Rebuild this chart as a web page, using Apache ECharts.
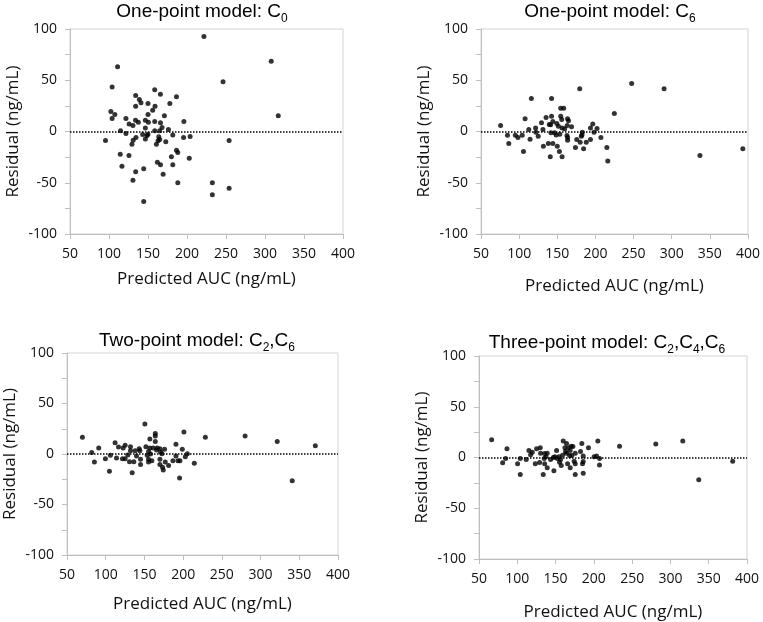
<!DOCTYPE html>
<html>
<head>
<meta charset="utf-8">
<script src="https://cdn.jsdelivr.net/npm/echarts@6/dist/echarts.min.js"></script>
<style>
  html, body { margin: 0; padding: 0; background: #fff; }
  #main { width: 763px; height: 622px; }
</style>
</head>
<body>
<div id="main"></div>
<script>
// residual vs predicted AUC, [auc, residual]
var c0Points = [
  [221.7, 92.7], [308, 68.6], [111, 63.1], [246.2, 48.5], [104, 43.3], [158.6, 40.7], [165.9, 36.4],
  [134.2, 35.1], [186.5, 33.8], [138.9, 31.2], [141, 28], [150, 27.3], [178, 27.3], [134.2, 24.7],
  [159, 24.7], [156, 20.8], [102.4, 19.5], [107.5, 16.6], [150, 16.6], [317, 15.3], [171, 15.3],
  [104, 12.7], [121.7, 12.7], [134, 11], [137.6, 9.1], [146.6, 11], [150.5, 9.1], [158.6, 9.8],
  [166, 8.5], [196, 9.8], [125.8, 7.2], [130.7, 5.9], [146.6, 3.3], [168, 3.9], [176.2, 2],
  [114.8, 0.7], [158.6, 0.7], [165, 0.7], [121.7, -2], [143.2, -2.9], [150, -2.6], [148.8, -3.9],
  [181.8, -3.3], [204, -4.9], [195.6, -5.9], [134.6, -5.9], [146.6, -7.2], [163.8, -5.2], [165, -7.8],
  [162.9, -9.1], [95.5, -8.8], [254, -8.8], [131, -8.5], [172.8, -10], [129.4, -12.4], [160.8, -12.4],
  [114.4, -22.1], [125.6, -23.4], [180, -24.7], [186.5, -18.2], [188.2, -20.5], [202.9, -26],
  [162, -29.9], [166, -32.5], [181.8, -32.5], [116.6, -33.8], [144.5, -36.4], [134.2, -39.3],
  [169.4, -41.6], [130.7, -47.5], [188.2, -50.1], [232.5, -50.1], [254, -55.3], [232.5, -61.8], [144.5, -68.3]
];

var c6Points = [
  [247.5, 46.8], [179.4, 41.6], [290, 41.6], [116, 32.2], [142.5, 32.2], [154.5, 22.8], [158.4, 22.8],
  [224.8, 17.6], [142.5, 15], [154.5, 15], [135.3, 13.7], [107.8, 12.4], [155.8, 11.7], [163.5, 12.4],
  [164.7, 10.4], [144.2, 9.8], [129.3, 8.5], [149.4, 7.8], [139.5, 6.8], [196.5, 7.2], [163, 5.9],
  [75.7, 5.9], [151.5, 5.2], [168.7, 4.6], [156.3, 3.3], [159.7, 2.6], [193.5, 3.3], [202.1, 2.9],
  [121.6, 3.3], [112.6, 2], [131.2, 2], [122, -0.7], [141.7, -1.3], [146.4, -1.3], [198.2, -0.7],
  [148.5, -3.3], [153.3, -2.6], [182.8, -0.7], [182.4, -3.3], [84.7, -3.6], [95, -3.6], [104, -3.6],
  [125, -4.6], [98.4, -5.9], [181.5, -4.6], [207.2, -5.9], [163.5, -5.9], [114.3, -7.5], [175.5, -7.8],
  [193.5, -7.8], [180, -10.4], [188, -10.4], [86.4, -11.7], [138.3, -11.7], [144.2, -11.7], [131.8, -14.3],
  [150, -14.3], [173.8, -15.6], [215, -15.6], [152.8, -19.5], [105.7, -19.5], [184.5, -16.9],
  [140.8, -24.7], [156.3, -24.7], [337, -23.4], [393.2, -16.9], [216.2, -28.9], [141.3, 6.5],
  [162.7, -3.9], [163.5, -8.5]
];

var c2c6Points = [
  [150.6, 29.7], [201, 21.7], [164, 20.4], [164, 17.8], [69.9, 16.5], [228.7, 16.5], [280, 17.8],
  [157, 14.8], [164, 12.5], [321.5, 12.5], [112.1, 11.2], [190.7, 9.6], [370.7, 8.2], [125.1, 8.6],
  [116.5, 6.9], [122.5, 5.9], [91, 5.9], [132, 7.2], [151.9, 7.2], [143.2, 5.3], [157, 5.9],
  [161.3, 5.9], [166.5, 5.9], [170, 5.3], [176, 4.6], [198.9, 4.6], [132, 3.3], [138, 3.3],
  [144.1, 3.3], [155.3, 2.5], [81.9, 1.5], [170.8, 2], [172.6, 0.3], [205.4, 0.3], [128.5, -1],
  [106.1, -1.3], [153.6, -1.3], [139.8, -2], [190.7, -2], [202.8, -2.6], [99.6, -4.6], [113.9, -4],
  [121.6, -4.6], [125.1, -4.6], [145, -5.3], [155.3, -5.3], [159.6, -6.6], [170, -5.3], [193.3, -6.6],
  [85.4, -7.9], [130.7, -7.6], [136.3, -7.6], [155.3, -7.9], [176.9, -7.9], [186.8, -6.6], [195.9, -6.6],
  [214.4, -9.2], [145, -10.5], [170, -10.5], [181.2, -11.5], [173.4, -13.2], [174.3, -15.8],
  [104.8, -17.1], [134.2, -18.5], [195.4, -23.7], [340.9, -26.4], [157.9, 0], [165.7, 4]
];

var c2c4c6Points = [
  [66.5, 17.6], [86.5, 8.5], [80.9, -5.2], [84.8, -1], [100.4, -6.2], [103.9, -1], [103.9, -16.7],
  [111.7, -2], [115.2, 6.9], [117.4, 2.6], [119.6, 5.2], [125.2, 8.5], [130, 9.5], [123.5, -6.2],
  [129.1, -4.9], [130.4, 4.2], [135.7, 3.9], [139.1, 4.2], [135.2, -1], [137.4, 0.7], [135.7, -6.2],
  [133.9, -16.7], [139.1, -10.1], [143.5, -2], [147, 0], [149.1, 0.7], [147.8, -13.1], [151.3, 6.9],
  [152.2, -1], [154.3, 0.7], [155.2, -4.6], [156.5, -2], [157.4, -7.8], [159.1, 2.3], [160, 16.3],
  [162.2, 9.5], [163, 5.9], [164.3, 13.7], [164.3, 4.2], [165.7, -6.2], [167, 9.5], [168.3, 2],
  [169.1, 6.9], [170.4, 11.1], [171.3, 2], [169.1, -10.1], [172.6, 10.8], [174.3, -3.6], [175.7, -16.7],
  [175.7, -6.2], [175.7, 4.2], [182.6, 5.9], [184.3, 13.7], [186.1, 1.6], [185.2, -6.2], [186.1, -3.9],
  [186.1, -15.4], [193, 9.5], [200.4, 0.7], [203.5, 1.6], [205.2, 16.3], [207.4, -1], [207.4, -7.5],
  [233.5, 11.1], [280.9, 13.4], [316.1, 16.3], [337, -21.9], [381.3, -3.6]
];

var titleMain = ['One-point model: C', 'One-point model: C', 'Two-point model: C', 'Three-point model: C'];
var titleSubs = [['0'], ['6'], ['2', '6'], ['2', '4', '6']];
var xName = 'Predicted AUC (ng/mL)';
var yName = 'Residual (ng/mL)';

var panels = [c0Points, c6Points, c2c6Points, c2c4c6Points];

// layout of each panel: grid box, title centre, axis name gaps
var layout = [
  { left: 70, top: 29, width: 273, height: 205, tx: 202, ty: -3, xGap: 37 },
  { left: 481, top: 29, width: 273, height: 205, tx: 610, ty: -3, xGap: 44 },
  { left: 67, top: 353, width: 271, height: 202, tx: 197, ty: 326, xGap: 41 },
  { left: 479, top: 356, width: 268, height: 203, tx: 607, ty: 328, xGap: 45 }
];

var myChart = echarts.init(document.getElementById('main'));

var titles = [], grids = [], xAxes = [], yAxes = [], series = [];

function makeTitle(i) {
  var subs = titleSubs[i];
  var txt = '{n|' + titleMain[i] + '}';
  for (var k = 0; k < subs.length; k++) {
    if (k > 0) txt += '{n|,C}';
    txt += '{s|' + subs[k] + '}';
  }
  return txt;
}

for (var i = 0; i < 4; i++) {
  var L = layout[i];
  titles.push({
    text: makeTitle(i),
    left: L.tx,
    top: L.ty,
    padding: 0,
    textAlign: 'center',
    textStyle: {
      fontWeight: 'normal',
      rich: {
        n: { fontFamily: 'Liberation Sans', fontSize: 19, fontWeight: 'normal', color: '#000', lineHeight: 24, verticalAlign: 'bottom' },
        s: { fontFamily: 'Liberation Sans', fontSize: 12, fontWeight: 'normal', color: '#000', lineHeight: 24, verticalAlign: 'bottom', padding: [0, 0, -4, 0] }
      }
    }
  });
  grids.push({
    left: L.left, top: L.top, width: L.width, height: L.height,
    show: true, borderColor: '#d4d4d4', borderWidth: 1, backgroundColor: 'transparent'
  });
  xAxes.push({
    type: 'value', gridIndex: i, min: 50, max: 400, interval: 50,
    name: xName, nameLocation: 'middle', nameGap: L.xGap,
    nameTextStyle: { fontFamily: 'Open Sans', fontSize: 17, color: '#111' },
    axisLine: { show: true, onZero: false, lineStyle: { color: '#bfbfbf' } },
    axisTick: { show: true, length: 5, lineStyle: { color: '#bfbfbf' } },
    axisLabel: { fontFamily: 'Open Sans', fontSize: 14, color: '#111', margin: 13 },
    splitLine: { show: false }
  });
  yAxes.push({
    type: 'value', gridIndex: i, min: -100, max: 100, interval: 25,
    name: yName, nameLocation: 'middle', nameGap: 48,
    nameTextStyle: { fontFamily: 'Open Sans', fontSize: 17, color: '#111' },
    axisLine: { show: true, lineStyle: { color: '#bfbfbf' } },
    axisTick: { show: true, length: 5, lineStyle: { color: '#bfbfbf' } },
    axisLabel: {
      fontFamily: 'Open Sans', fontSize: 14, color: '#111', margin: 13,
      formatter: function (v) { return v % 50 === 0 ? String(v) : ''; }
    },
    splitLine: { show: false }
  });
  series.push({
    type: 'scatter', xAxisIndex: i, yAxisIndex: i,
    data: panels[i],
    symbolSize: 5,
    itemStyle: { color: '#000' },
    markLine: {
      silent: true, symbol: ['none', 'none'],
      label: { show: false },
      lineStyle: { type: 'dotted', color: '#000', width: 1.5 },
      data: [{ yAxis: 0 }]
    }
  });
}

var option = {
  animation: false,
  title: titles,
  grid: grids,
  xAxis: xAxes,
  yAxis: yAxes,
  series: series
};

myChart.setOption(option);
</script>
</body>
</html>
